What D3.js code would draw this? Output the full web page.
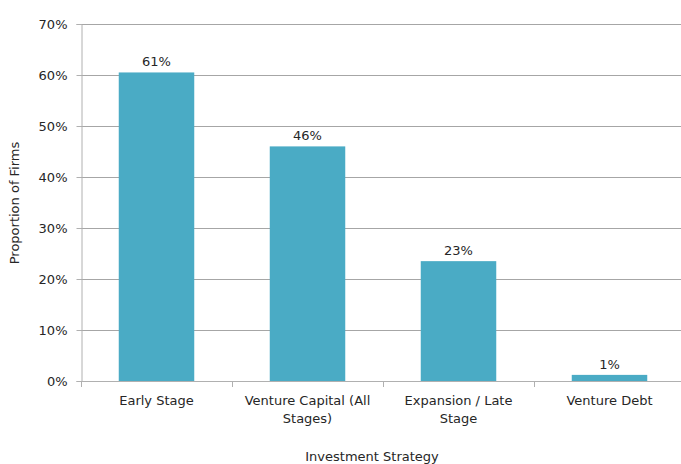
<!DOCTYPE html>
<html><head><meta charset="utf-8">
<script src="https://cdn.jsdelivr.net/npm/d3@7"></script>
<style>body{margin:0;background:#fff}svg{display:block}text{font-family:"DejaVu Sans",sans-serif;fill:#262626}</style>
</head><body>
<script>
const categories = ["Early Stage", "Venture Capital (All Stages)", "Expansion / Late Stage", "Venture Debt"];
const categoryLines = [["Early Stage"], ["Venture Capital (All", "Stages)"], ["Expansion / Late", "Stage"], ["Venture Debt"]];
const values = [0.605, 0.46, 0.235, 0.012];
const valueLabels = ["61%", "46%", "23%", "1%"];
const yTicks = [0, 0.1, 0.2, 0.3, 0.4, 0.5, 0.6, 0.7];

const W = 681, H = 464, FS = 13;
const svg = d3.select("body").append("svg").attr("width", W).attr("height", H);
const x = d3.scaleBand().domain(categories).range([81, 685]).paddingInner(0.5).paddingOuter(0.25);
const y = d3.scaleLinear().domain([0, 0.7]).range([381, 24]);

// gridlines
svg.append("g").selectAll("line").data(yTicks.slice(1)).join("line")
  .attr("x1", 81).attr("x2", 685)
  .attr("y1", d => Math.round(y(d)) + 0.5).attr("y2", d => Math.round(y(d)) + 0.5)
  .attr("stroke", "#a6a6a6").attr("stroke-width", 1);

// y axis
const yAxis = svg.append("g").attr("transform", "translate(81.5,0)")
  .call(d3.axisLeft(y).tickValues(yTicks).tickFormat(d3.format(".0%")).tickSize(5).tickPadding(9));
yAxis.select(".domain").attr("stroke", "#b0b0b0");
yAxis.selectAll(".tick line").attr("stroke", "#b0b0b0");
yAxis.selectAll("text").attr("font-size", FS).attr("font-family", null).style("fill", "#262626");

// bars
svg.append("g").selectAll("rect").data(values).join("rect")
  .attr("x", (d, i) => x(categories[i]))
  .attr("width", x.bandwidth())
  .attr("y", d => y(d))
  .attr("height", d => y(0) - y(d))
  .attr("fill", "#4aabc5");

// value labels
svg.append("g").selectAll("text").data(values).join("text")
  .attr("x", (d, i) => x(categories[i]) + x.bandwidth() / 2)
  .attr("y", d => y(d) - 6)
  .attr("text-anchor", "middle").attr("font-size", FS)
  .text((d, i) => valueLabels[i]);

// x axis
const step = x.step();
const bounds = d3.range(categories.length + 1).map(i => 81 + i * step);
svg.append("line").attr("x1", 81).attr("x2", 685).attr("y1", 381.5).attr("y2", 381.5).attr("stroke", "#b0b0b0");
svg.append("g").selectAll("line").data(bounds).join("line")
  .attr("x1", d => Math.round(d) + 0.5).attr("x2", d => Math.round(d) + 0.5)
  .attr("y1", 381).attr("y2", 387).attr("stroke", "#b0b0b0");

const cl = svg.append("g").selectAll("text").data(categories).join("text")
  .attr("text-anchor", "middle").attr("font-size", FS)
  .attr("x", d => x(d) + x.bandwidth() / 2).attr("y", 405);
cl.each(function(d, i) {
  d3.select(this).selectAll("tspan").data(categoryLines[i]).join("tspan")
    .attr("x", x(d) + x.bandwidth() / 2)
    .attr("dy", (t, j) => j === 0 ? 0 : 18).text(t => t);
});

// axis titles
svg.append("text").attr("x", 372).attr("y", 461).attr("text-anchor", "middle").attr("font-size", FS).text("Investment Strategy");
svg.append("text").attr("transform", "translate(19,203) rotate(-90)").attr("text-anchor", "middle").attr("font-size", FS).text("Proportion of Firms");
</script>
</body></html>
